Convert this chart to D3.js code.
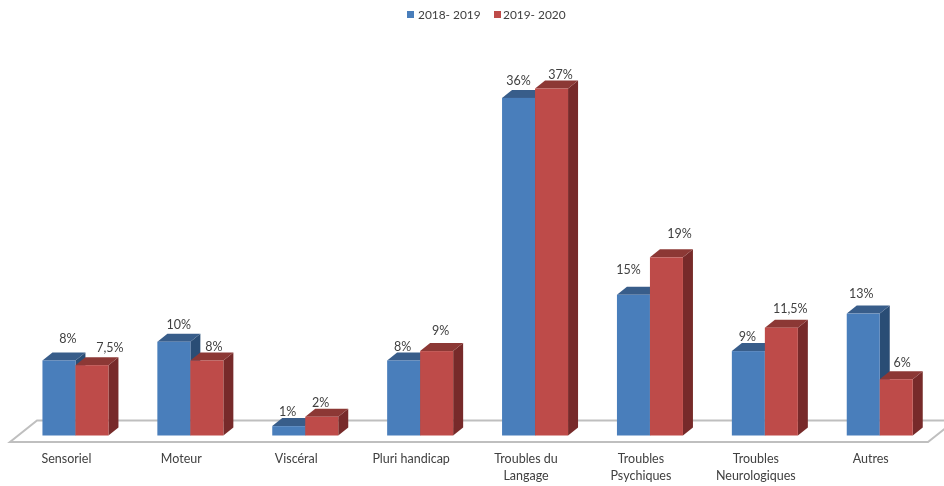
<!DOCTYPE html>
<html>
<head>
<meta charset="utf-8">
<style>
  html, body { margin: 0; padding: 0; background: #fff; }
  text { font-family: Lato, "Open Sans", sans-serif; fill: #404040; }
</style>
</head>
<body>
<svg width="944" height="486"></svg>
<script src="https://cdn.jsdelivr.net/npm/d3@7"></script>
<script>
var categories = ["Sensoriel", "Moteur", "Viscéral", "Pluri handicap", "Troubles du|Langage", "Troubles|Psychiques", "Troubles|Neurologiques", "Autres"];
var seriesNames = ["2018- 2019", "2019- 2020"];
var values2018 = [8, 10, 1, 8, 36, 15, 9, 13];
var values2019 = [7.5, 8, 2, 9, 37, 19, 11.5, 6];

// the value labels were placed by hand in the original: [dx, dy] from the top centre of each bar
var nudge2018 = [[9, -22], [5, -17], [-1, -14], [-1, -14], [0, -17], [-5, -25], [-1, -14], [-2, -20]];
var nudge2019 = [[18, -18], [7, -14], [-1, -14], [4, -20], [9, -14], [13, -24], [9, -19], [6, -17]];

var colors = [
  {front: "#4a7ebb", side: "#2c4d75", top: "#385d8a"},
  {front: "#be4b48", side: "#772c2a", top: "#8c3836"}
];

var svg = d3.select("svg");
var barW = 33, depthX = 10, depthY = 8;

var x = d3.scaleBand().domain(categories).range([18, 937.2]);
var y = d3.scaleLinear().domain([0, 37]).range([435.5, 88.5]);

var defs = svg.append("defs");
defs.append("filter").attr("id", "soft").append("feGaussianBlur").attr("stdDeviation", 0.6);

var g = svg.append("g").attr("filter", "url(#soft)");

// floor
var floorL = 10, floorR = 928, floorF = y(0) + 6.5, floorB = y(0) - 15, floorD = 27;
g.append("path")
  .attr("d", "M" + floorL + "," + floorF + "L" + floorR + "," + floorF +
             "L" + (floorR + floorD) + "," + floorB + "L" + (floorL + floorD) + "," + floorB + "Z")
  .attr("fill", "#fff")
  .attr("stroke", "#bfbfbf")
  .attr("stroke-width", 2);

function barPaths(sel, d, k) {
  var x0 = x(d.cat) + x.bandwidth() / 2 - barW + k * barW;
  var x1 = x0 + barW, y0 = y(d.value), yb = y(0);
  sel.append("path")
    .attr("d", "M" + x1 + "," + y0 + "L" + (x1 + depthX) + "," + (y0 - depthY) +
               "L" + (x1 + depthX) + "," + (yb - depthY) + "L" + x1 + "," + yb + "Z")
    .attr("fill", colors[k].side);
  sel.append("path")
    .attr("d", "M" + x0 + "," + y0 + "L" + (x0 + depthX) + "," + (y0 - depthY) +
               "L" + (x1 + depthX) + "," + (y0 - depthY) + "L" + x1 + "," + y0 + "Z")
    .attr("fill", colors[k].top);
  sel.append("rect")
    .attr("x", x0).attr("y", y0)
    .attr("width", barW).attr("height", yb - y0)
    .attr("fill", colors[k].front);
}

categories.forEach(function(cat, i) {
  [values2018, values2019].forEach(function(vals, k) {
    var bar = g.append("g").attr("class", "bar");
    barPaths(bar, {cat: cat, value: vals[i]}, k);
  });
});

// value labels
categories.forEach(function(cat, i) {
  [values2018, values2019].forEach(function(vals, k) {
    var n = (k == 0 ? nudge2018 : nudge2019)[i];
    var cx = x(cat) + x.bandwidth() / 2 - barW + k * barW + barW / 2;
    g.append("text")
      .attr("x", cx + n[0])
      .attr("y", y(vals[i]) + n[1])
      .attr("dy", "0.35em")
      .attr("text-anchor", "middle")
      .attr("font-size", 12.5)
      .text(String(vals[i]).replace(".", ",") + "%");
  });
});

// category labels
categories.forEach(function(cat) {
  cat.split("|").forEach(function(line, j) {
    g.append("text")
      .attr("x", x(cat) + x.bandwidth() / 2 - 9)
      .attr("y", 459 + j * 16.5)
      .attr("dy", "0.35em")
      .attr("text-anchor", "middle")
      .attr("font-size", 12.5)
      .text(line);
  });
});

// legend
var legendX = [407, 494];
var legendGap = [11, 9];
seriesNames.forEach(function(name, k) {
  g.append("rect")
    .attr("x", legendX[k]).attr("y", 11)
    .attr("width", 7).attr("height", 7)
    .attr("fill", colors[k].front);
  g.append("text")
    .attr("x", legendX[k] + legendGap[k])
    .attr("y", 14.5)
    .attr("dy", "0.35em")
    .attr("font-size", 11.9)
    .text(name);
});
</script>
</body>
</html>
